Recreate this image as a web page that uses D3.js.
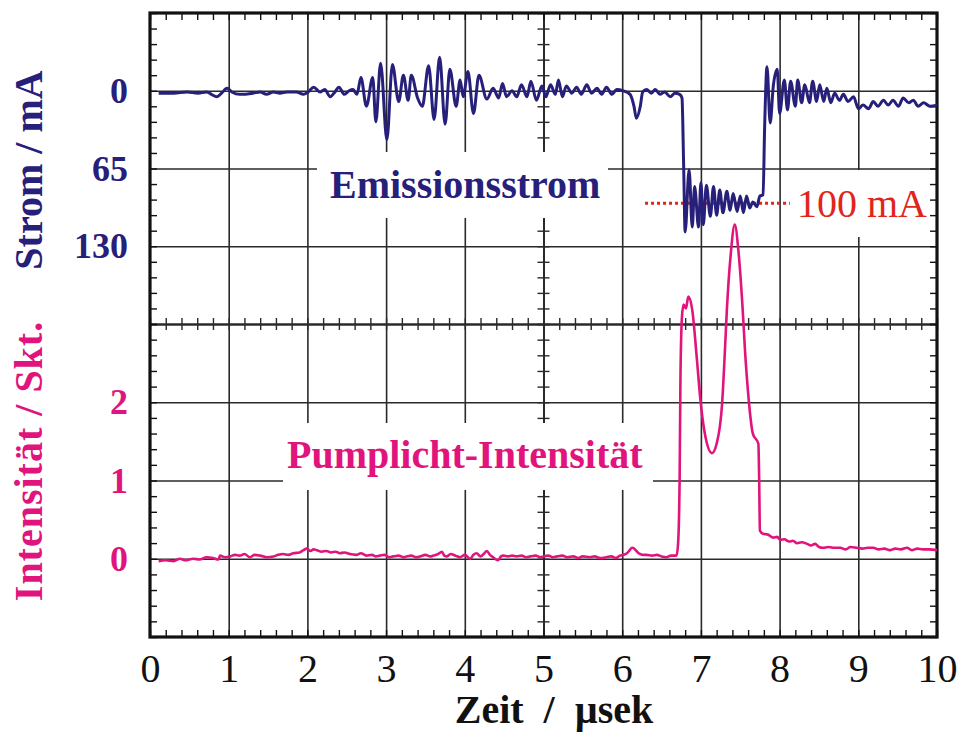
<!DOCTYPE html>
<html>
<head>
<meta charset="utf-8">
<script src="https://cdn.jsdelivr.net/npm/d3@7"></script>
<style>
  body { margin: 0; background: #fff; }
  svg text { font-family: "Liberation Serif", "Times New Roman", serif; }
</style>
</head>
<body>
<div id="chart"></div>
<script>
// Emissionsstrom (mA)
var stromZeit = [0.11,0.30,0.47,0.61,0.72,0.78,0.85,0.91,0.98,1.04,1.14,1.31,1.40,1.48,1.57,1.65,1.74,1.86,1.95,2.01,
  2.08,2.16,2.22,2.29,2.35,2.40,2.47,2.53,2.58,2.63,2.68,2.75,2.83,2.87,2.93,3.01,3.08,3.16,3.22,3.28,
  3.32,3.40,3.46,3.54,3.61,3.68,3.75,3.81,3.89,3.94,3.98,4.04,4.11,4.18,4.28,4.36,4.43,4.48,4.53,4.60,
  4.66,4.72,4.79,4.84,4.91,4.98,5.03,5.09,5.15,5.19,5.24,5.29,5.36,5.42,5.48,5.55,5.61,5.68,5.74,5.80,
  5.87,5.93,6.01,6.10,6.15,6.18,6.23,6.26,6.31,6.37,6.42,6.48,6.54,6.61,6.67,6.73,6.76,6.78,6.80,6.85,
  6.89,6.92,6.97,7.00,7.03,7.07,7.12,7.16,7.20,7.24,7.28,7.33,7.37,7.41,7.46,7.50,7.54,7.58,7.62,7.66,
  7.71,7.75,7.79,7.81,7.84,7.88,7.92,7.97,8.00,8.06,8.10,8.14,8.20,8.23,8.28,8.32,8.38,8.42,8.47,8.51,
  8.56,8.60,8.65,8.70,8.76,8.81,8.87,8.94,9.00,9.06,9.13,9.19,9.25,9.32,9.38,9.44,9.51,9.57,9.64,9.70,
  9.76,9.83,9.91,10.0];
var stromWerte = [2,2,1,2,1,3,5,2,-2,1,3,2,1,3,1,2,1,1,3,1,
  -3,1,-1,5,1,-3,3,0,-1,3,-11,13,-11,26,-23,41,-22,9,-13,8,
  -13,6,13,-21,24,-28,28,-18,13,-9,5,-16,19,-13,7,-2,6,-6,5,0,
  5,-5,5,-8,8,-4,5,-5,3,-9,5,-4,2,-3,3,-5,2,-2,3,-3,
  3,-1,0,3,13,23,13,1,-1,2,-1,3,1,5,2,3,6,60,118,66,
  114,80,114,77,112,79,105,80,104,83,102,84,100,86,101,88,102,88,98,93,
  97,88,87,30,-20,27,-4,-18,19,-9,16,-8,13,-9,10,-5,10,-8,9,-5,
  9,-2,10,2,8,3,9,5,15,12,15,9,13,8,12,8,13,6,10,8,
  13,10,13,12];

// Pumplicht-Intensitaet (Skt.)
var pumpZeit = [0.11,0.20,0.30,0.38,0.45,0.55,0.63,0.72,0.80,0.87,0.89,0.95,1.02,1.08,1.14,1.20,1.27,1.33,1.40,1.48,
  1.57,1.63,1.69,1.76,1.82,1.90,1.95,1.99,2.04,2.08,2.12,2.18,2.24,2.30,2.36,2.41,2.47,2.54,2.62,2.68,
  2.75,2.82,2.87,2.92,2.98,3.04,3.09,3.16,3.22,3.26,3.32,3.38,3.43,3.50,3.56,3.60,3.66,3.71,3.74,3.77,
  3.82,3.88,3.94,4.00,4.07,4.11,4.15,4.20,4.24,4.28,4.32,4.36,4.42,4.46,4.49,4.55,4.60,4.66,4.72,4.78,
  4.83,4.90,4.96,5.00,5.06,5.12,5.17,5.24,5.30,5.38,5.44,5.50,5.59,5.65,5.72,5.80,5.86,5.92,5.97,6.02,
  6.06,6.13,6.21,6.26,6.31,6.38,6.44,6.50,6.56,6.62,6.69,6.71,6.73,6.74,6.76,6.78,6.81,6.84,6.89,6.95,
  6.99,7.05,7.14,7.20,7.27,7.31,7.33,7.38,7.43,7.48,7.53,7.56,7.60,7.66,7.73,7.74,7.75,7.79,7.85,7.92,
  7.97,8.01,8.06,8.12,8.17,8.22,8.28,8.35,8.40,8.45,8.50,8.55,8.62,8.70,8.77,8.84,8.90,8.98,9.05,9.12,
  9.19,9.26,9.33,9.40,9.47,9.54,9.62,9.68,9.75,9.82,9.90,10.0];
var pumpWerte = [-0.03,-0.02,-0.03,0,-0.02,0,-0.01,0.02,0.01,-0.01,0.04,0.02,0.03,0.05,0.04,0.06,0.02,0.05,0.04,0.02,
  0.03,0.05,0.06,0.05,0.07,0.08,0.11,0.13,0.10,0.12,0.11,0.09,0.10,0.08,0.09,0.07,0.08,0.06,0.05,0.07,
  0.04,0.05,0.03,0.04,0.05,0.02,0.03,0.04,0.02,0.03,0.04,0.02,0.03,0.05,0.03,0.04,0.06,0.09,0.04,0.03,
  0.06,0.04,0.02,0.05,0,0.05,0.07,0.03,0.06,0.10,0.05,0.02,-0.02,0.03,0.04,0.03,0.04,0.03,0.04,0.02,
  0.03,0.04,0.02,0.03,0.04,0.02,0.03,0.04,0.02,0.03,0.01,0.03,0.02,0.03,0.01,0.02,0.03,0.01,0.04,0.05,
  0.07,0.14,0.07,0.05,0.05,0.04,0.05,0.03,0.02,0.04,0.04,0.19,1.04,2.3,3.1,3.25,3.2,3.35,3.18,2.54,
  2.07,1.6,1.35,1.47,1.99,2.76,3.18,3.9,4.27,3.9,3.2,2.67,2.12,1.6,1.47,1.04,0.36,0.32,0.31,0.27,
  0.28,0.24,0.25,0.22,0.23,0.20,0.21,0.19,0.17,0.19,0.15,0.14,0.15,0.14,0.14,0.12,0.15,0.14,0.13,0.14,
  0.14,0.12,0.13,0.11,0.13,0.12,0.14,0.11,0.13,0.12,0.12,0.11];

var zeitTicks = [0,1,2,3,4,5,6,7,8,9,10];
var stromTicks = [0,65,130];
var pumpTicks = [0,1,2];
var stromMarke = 94;   // Hoehe der gepunkteten Linie bei "100 mA", wie gezeichnet

var navy = "#27207a", pink = "#e0147c", red = "#e0261b";

var width = 962, height = 736;
var frame = { left: 150, right: 937, top: 13, mid: 324, bottom: 637 };

var svg = d3.select("#chart").append("svg")
    .attr("width", width)
    .attr("height", height);

// scales
var x = d3.scaleLinear().domain([0, 10]).range([frame.left, frame.right]);
var yStrom = d3.scaleLinear().domain([-65, 195]).range([frame.top, frame.mid]);
var yPump = d3.scaleLinear().domain([-1, 3]).range([frame.bottom, frame.mid]);

var plotW = frame.right - frame.left, plotH = frame.bottom - frame.top;
var minorX = d3.range(0, 10.001, 0.2);
var minorStrom = d3.range(-65, 196, 13);
var minorPump = d3.range(-1, 3.001, 0.2);

function styleGrid(g, w) {
    g.select(".domain").remove();
    g.selectAll(".tick line").attr("stroke", "#2a2a2a").attr("stroke-width", w);
}

// grid lines
svg.append("g").attr("transform", "translate(0," + frame.bottom + ")")
    .call(d3.axisBottom(x).tickValues(d3.range(1, 10)).tickSize(-plotH).tickFormat(""))
    .call(styleGrid, 1.6);
svg.append("g").attr("transform", "translate(" + frame.left + ",0)")
    .call(d3.axisLeft(yStrom).tickValues(stromTicks).tickSize(-plotW).tickFormat(""))
    .call(styleGrid, 1.6);
svg.append("g").attr("transform", "translate(" + frame.left + ",0)")
    .call(d3.axisLeft(yPump).tickValues(pumpTicks).tickSize(-plotW).tickFormat(""))
    .call(styleGrid, 1.6);

// centre cross with ticks
function centreAxis(g) {
    g.selectAll(".domain").attr("stroke", "#2a2a2a").attr("stroke-width", 1.8);
    g.selectAll(".tick line").attr("stroke", "#2a2a2a").attr("stroke-width", 1.4);
}
svg.append("g").attr("transform", "translate(0," + frame.mid + ")")
    .call(d3.axisBottom(x).tickValues(minorX).tickSize(6).tickSizeOuter(0).tickFormat(""))
    .call(centreAxis);
svg.append("g").attr("transform", "translate(0," + frame.mid + ")")
    .call(d3.axisTop(x).tickValues(minorX).tickSize(6).tickSizeOuter(0).tickFormat(""))
    .call(centreAxis);
var xMid = x(5);
[d3.axisLeft, d3.axisRight].forEach(function (ax) {
    svg.append("g").attr("transform", "translate(" + xMid + ",0)")
        .call(ax(yStrom).tickValues(minorStrom).tickSize(6).tickSizeOuter(0).tickFormat(""))
        .call(centreAxis);
    svg.append("g").attr("transform", "translate(" + xMid + ",0)")
        .call(ax(yPump).tickValues(minorPump).tickSize(6).tickSizeOuter(0).tickFormat(""))
        .call(centreAxis);
});

// border minor ticks (inward)
function borderTicks(g) {
    g.select(".domain").remove();
    g.selectAll(".tick line").attr("stroke", "#111").attr("stroke-width", 1.4);
}
svg.append("g").attr("transform", "translate(0," + frame.bottom + ")")
    .call(d3.axisBottom(x).tickValues(minorX).tickSize(-7).tickFormat("")).call(borderTicks);
svg.append("g").attr("transform", "translate(0," + frame.top + ")")
    .call(d3.axisTop(x).tickValues(minorX).tickSize(-7).tickFormat("")).call(borderTicks);
svg.append("g").attr("transform", "translate(" + frame.left + ",0)")
    .call(d3.axisLeft(yStrom).tickValues(minorStrom).tickSize(-7).tickFormat("")).call(borderTicks);
svg.append("g").attr("transform", "translate(" + frame.left + ",0)")
    .call(d3.axisLeft(yPump).tickValues(minorPump).tickSize(-7).tickFormat("")).call(borderTicks);
svg.append("g").attr("transform", "translate(" + frame.right + ",0)")
    .call(d3.axisRight(yStrom).tickValues(minorStrom).tickSize(-7).tickFormat("")).call(borderTicks);
svg.append("g").attr("transform", "translate(" + frame.right + ",0)")
    .call(d3.axisRight(yPump).tickValues(minorPump).tickSize(-7).tickFormat("")).call(borderTicks);

// white boxes behind the labels
var boxes = [
    { x: 317, y: 152, w: 291, h: 66 },
    { x: 283, y: 423, w: 370, h: 67 },
    { x: 793, y: 170, w: 132, h: 67 }
];
svg.selectAll("rect.box").data(boxes).enter().append("rect")
    .attr("class", "box")
    .attr("x", function (d) { return d.x; })
    .attr("y", function (d) { return d.y; })
    .attr("width", function (d) { return d.w; })
    .attr("height", function (d) { return d.h; })
    .attr("fill", "#fff");

// frame
svg.append("rect")
    .attr("x", frame.left).attr("y", frame.top)
    .attr("width", plotW).attr("height", plotH)
    .attr("fill", "none").attr("stroke", "#111").attr("stroke-width", 3.2);

// tick labels
function tickText(g, colour, weight, size) {
    g.select(".domain").remove();
    g.attr("font-size", size)
        .attr("font-family", "'Liberation Serif', 'Times New Roman', serif");
    g.selectAll("text")
        .attr("fill", colour)
        .attr("font-size", size)
        .attr("font-weight", weight);
}
svg.append("g").attr("transform", "translate(" + frame.left + ",0)")
    .call(d3.axisLeft(yStrom).tickValues(stromTicks).tickSize(0).tickPadding(22).tickFormat(d3.format("d")))
    .call(tickText, navy, "bold", 36);
svg.append("g").attr("transform", "translate(" + frame.left + ",0)")
    .call(d3.axisLeft(yPump).tickValues(pumpTicks).tickSize(0).tickPadding(22).tickFormat(d3.format("d")))
    .call(tickText, pink, "bold", 36);
svg.append("g").attr("transform", "translate(0," + frame.bottom + ")")
    .call(d3.axisBottom(x).tickValues(zeitTicks).tickSize(0).tickPadding(17).tickFormat(d3.format("d")))
    .call(tickText, "#111", "normal", 40);

// axis titles
svg.append("text")
    .attr("transform", "translate(42," + 170 + ") rotate(-90)")
    .attr("text-anchor", "middle").attr("font-size", 40).attr("font-weight", "bold")
    .attr("fill", navy).text("Strom / mA");
svg.append("text")
    .attr("transform", "translate(42," + 461 + ") rotate(-90)")
    .attr("text-anchor", "middle").attr("font-size", 40).attr("font-weight", "bold")
    .attr("letter-spacing", 1)
    .attr("fill", pink).text("Intensität / Skt.");
svg.append("text")
    .attr("x", 554).attr("y", 723)
    .attr("text-anchor", "middle").attr("font-size", 40).attr("font-weight", "bold")
    .attr("fill", "#111").style("white-space", "pre").text("Zeit  /  µsek");

// curve labels
svg.append("text").attr("x", 330).attr("y", 198)
    .attr("font-size", 40).attr("font-weight", "bold").attr("fill", navy)
    .text("Emissionsstrom");
svg.append("text").attr("x", 287).attr("y", 468)
    .attr("font-size", 40).attr("font-weight", "bold").attr("fill", pink)
    .text("Pumplicht-Intensität");

// 100 mA marker
svg.append("line")
    .attr("x1", x(6.29)).attr("x2", x(8.13))
    .attr("y1", yStrom(stromMarke)).attr("y2", yStrom(stromMarke))
    .attr("stroke", red).attr("stroke-width", 3).attr("stroke-dasharray", "3,3");
svg.append("text").attr("x", 797).attr("y", 217)
    .attr("font-size", 40).attr("fill", red)
    .text("100 mA");

// curves
var stromLine = d3.line()
    .x(function (d, i) { return x(stromZeit[i]); })
    .y(function (d) { return yStrom(d); })
    .curve(d3.curveMonotoneX);
var pumpLine = d3.line()
    .x(function (d, i) { return x(pumpZeit[i]); })
    .y(function (d) { return yPump(d); })
    .curve(d3.curveMonotoneX);

svg.append("path")
    .datum(pumpWerte)
    .attr("fill", "none").attr("stroke", pink).attr("stroke-width", 2.6)
    .attr("stroke-linejoin", "round")
    .attr("d", pumpLine);
svg.append("path")
    .datum(stromWerte)
    .attr("fill", "none").attr("stroke", navy).attr("stroke-width", 3)
    .attr("stroke-linejoin", "round")
    .attr("d", stromLine);
</script>
</body>
</html>
